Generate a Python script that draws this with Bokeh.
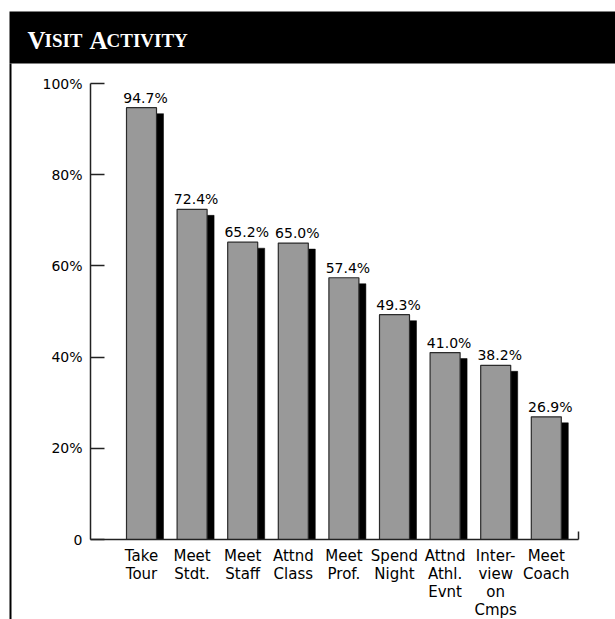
from bokeh.plotting import figure
from bokeh.models import Range1d, FixedTicker, ColumnDataSource
from bokeh.embed import file_html
from bokeh.resources import INLINE
from bokeh.core.properties import value

# Share of visitors who did each activity during the campus visit
activities = ["Take\nTour", "Meet\nStdt.", "Meet\nStaff", "Attnd\nClass",
              "Meet\nProf.", "Spend\nNight", "Attnd\nAthl.\nEvnt",
              "Inter-\nview\non\nCmps", "Meet\nCoach"]
percent = [94.7, 72.4, 65.2, 65.0, 57.4, 49.3, 41.0, 38.2, 26.9]
y_ticks = [0, 20, 40, 60, 80, 100]
y_tick_labels = ["0", "20%", "40%", "60%", "80%", "100%"]
# heading pieces: (text, font size, advance in px incl. word gap)
heading = [("V", "25px", 17), ("ISIT", "19px", 45), ("A", "25px", 17),
           ("CTIVITY", "19px", 0)]

W, H = 615, 619

# page layout in pixels (the frame fills the whole canvas)
AXIS_X, AXIS_END_X = 90, 578       # y axis line and end of baseline
BASE_Y = 539                       # pixel row of the 0 % baseline
PX_PER_CAT = 50.6                  # spacing between bars
PX_PER_PCT = 4.56                  # vertical scale
FIRST_BAR_PX = 141                 # centre of first bar

x_start = -FIRST_BAR_PX / PX_PER_CAT
x_end = x_start + W / PX_PER_CAT
y_end = BASE_Y / PX_PER_PCT
y_start = y_end - H / PX_PER_PCT


def xd(px):
    return x_start + px / PX_PER_CAT


def yd(py):
    return y_end - py / PX_PER_PCT


bar_w = 30 / PX_PER_CAT
shadow_dx = 7 / PX_PER_CAT
shadow_dy = 6 / PX_PER_PCT

idx = list(range(len(activities)))
src = ColumnDataSource(dict(
    x=idx,
    top=percent,
    sx=[i + shadow_dx for i in idx],
    stop=[v - shadow_dy for v in percent],
    label=[f"{v:.1f}%" for v in percent],
))

p = figure(width=W, height=H, output_backend="svg", toolbar_location=None,
           x_range=Range1d(x_start, x_end), y_range=Range1d(y_start, y_end),
           min_border=0, min_border_left=0, min_border_right=0,
           min_border_top=0, min_border_bottom=0)
p.background_fill_color = "white"
p.border_fill_color = "white"
p.outline_line_color = None
p.xgrid.visible = False
p.ygrid.visible = False

# heading band and the rule down the left side
p.quad(left=[xd(9)], right=[xd(W)], top=[yd(11)], bottom=[yd(63)],
       fill_color="black", line_color=None)
p.quad(left=[xd(9)], right=[xd(11)], top=[yd(63)], bottom=[yd(H)],
       fill_color="black", line_color=None)

# heading text in small capitals
cursor = 27
for txt, size, adv in heading:
    p.text(x=[xd(cursor)], y=[yd(40)], text=[txt],
           text_font=value("Liberation Serif"), text_font_style="bold",
           text_font_size=size, text_color="white",
           text_baseline="alphabetic", text_align="left")
    cursor += adv

# drop shadows, then the grey bars on top
p.vbar(x="sx", top="stop", bottom=0, width=bar_w, source=src,
       fill_color="black", line_color="black", line_width=0.5)
p.vbar(x="x", top="top", bottom=0, width=bar_w, source=src,
       fill_color="#999999", line_color="#2b2b2b", line_width=1.2)

# value labels above each bar
p.text(x="x", y="top", text="label", source=src, x_offset=4, y_offset=-10,
       text_align="center", text_baseline="alphabetic",
       text_font=value("DejaVu Sans"), text_font_size="14px",
       text_color="black")

# small closing tick at the right end of the baseline
p.segment(x0=[xd(AXIS_END_X)], y0=[0], x1=[xd(AXIS_END_X)],
          y1=[8 / PX_PER_PCT], line_color="#222222", line_width=1.5)

# y axis: ticks pointing inward, pinned at the left of the bars
ya = p.yaxis[0]
ya.fixed_location = xd(AXIS_X)
ya.bounds = (0, 100)
ya.ticker = FixedTicker(ticks=y_ticks)
ya.major_label_overrides = {t: s for t, s in zip(y_ticks, y_tick_labels)}
ya.major_tick_in = 14
ya.major_tick_out = 0
ya.minor_tick_in = 0
ya.minor_tick_out = 0
ya.axis_line_width = 1.5
ya.axis_line_color = "#222222"
ya.major_tick_line_width = 1.5
ya.major_tick_line_color = "#222222"
ya.major_label_standoff = 8
ya.major_label_text_font = "DejaVu Sans"
ya.major_label_text_font_size = "14px"
ya.major_label_text_color = "black"

# x axis: category names below the 0 % baseline
xa = p.xaxis[0]
xa.fixed_location = 0
xa.bounds = (xd(AXIS_X), xd(AXIS_END_X))
xa.ticker = FixedTicker(ticks=idx)
xa.major_label_overrides = {i: s for i, s in zip(idx, activities)}
xa.major_tick_in = 0
xa.major_tick_out = 0
xa.minor_tick_in = 0
xa.minor_tick_out = 0
xa.axis_line_width = 1.5
xa.axis_line_color = "#222222"
xa.major_label_standoff = 7
xa.major_label_text_font = "DejaVu Sans"
xa.major_label_text_font_size = "15px"
xa.major_label_text_line_height = 1.0
xa.major_label_text_color = "black"

open("out.html", "w").write(file_html(p, INLINE))
